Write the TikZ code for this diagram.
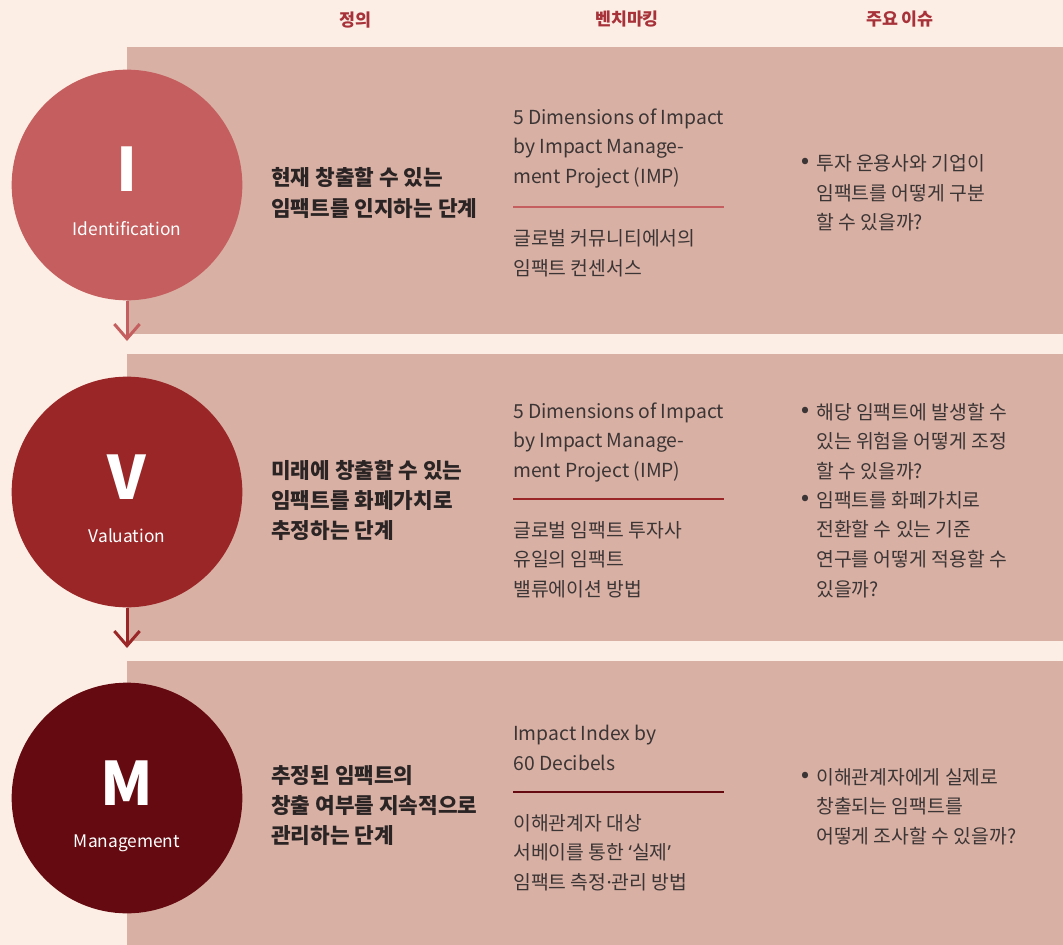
\documentclass[tikz,border=0pt]{standalone}
\usepackage{fontspec}
\setmainfont{Noto Sans CJK KR}
\newfontfamily\latinfont{Noto Sans}
\usetikzlibrary{arrows.meta}
\definecolor{bg}{HTML}{FCEEE4}
\definecolor{band}{HTML}{D9B0A4}
\definecolor{cI}{HTML}{C55F5F}
\definecolor{cV}{HTML}{9A2628}
\definecolor{cM}{HTML}{650A10}
\definecolor{head}{HTML}{A8323A}
\definecolor{body}{HTML}{3B3535}
\definecolor{defc}{HTML}{2A2424}
\tikzset{
  x=0.75pt, y=-0.75pt,
  hdr/.style={font=\bfseries\fontsize{13}{15}\selectfont, text=head, inner sep=0pt},
  stage/.style={circle, minimum size=173pt, inner sep=0pt},
  letter/.style={font=\bfseries\fontsize{45}{50}\selectfont, text=white, inner sep=0pt},
  sub/.style={font=\fontsize{13}{15}\selectfont, text=white, inner sep=0pt},
  defn/.style={font=\bfseries\fontsize{16}{22.8}\selectfont, text=defc, align=left, anchor=west, inner sep=0pt},
  bench/.style={font=\fontsize{14.5}{22.2}\selectfont, text=body, align=left, anchor=west, inner sep=0pt},
  bul/.style={font=\bfseries\fontsize{15}{16}\selectfont, text=body, inner sep=0pt},
  flow/.style={line width=2.25pt, -{Straight Barb[length=11pt, width=19pt]}},
  divider/.style={line width=0.9pt},
}
\begin{document}
\begin{tikzpicture}
\useasboundingbox (0,0) rectangle (1063,945);
\fill[bg] (0,0) rectangle (1063,945);
% bands
\fill[band] (127,47) rectangle (1063,334);
\fill[band] (127,354) rectangle (1063,641);
\fill[band] (127,661) rectangle (1063,945);
% headers
\node[hdr] (h1) at (355,20) {정의};
\node[hdr] (h2) at (627,19) {벤치마킹};
\node[hdr] (h3) at (900,19) {주요 이슈};
% arrow end points
\coordinate (a1) at (127,341);
\coordinate (a2) at (127,648);
% circles
\node[stage, fill=cI] (ci) at (127,185) {};
\node[stage, fill=cV] (cv) at (127,492) {};
\node[stage, fill=cM] (cm) at (127,798) {};
\draw[flow, cI] (ci.south) -- (a1);
\draw[flow, cV] (cv.south) -- (a2);
\node[letter] (li) at (127,169) {I};
\node[sub] (si) at (127,229) {Identification};
\node[letter] (lv) at (127,477) {V};
\node[sub] (sv) at (127,536) {Valuation};
\node[letter] (lm) at (127,783) {M};
\node[sub] (sm) at (127,843) {Management};
% definitions
\node[defn] (d1) at (271,193) {현재 창출할 수 있는\\임팩트를 인지하는 단계};
\node[defn] (d2) at (271,500.5) {미래에 창출할 수 있는\\임팩트를 화폐가치로\\추정하는 단계};
\node[defn] (d3) at (271,805.5) {추정된 임팩트의\\창출 여부를 지속적으로\\관리하는 단계};
% benchmarks
\node[bench] (b1a) at (513,148.5) {5 Dimensions of Impact\\by Impact Manage-\\ment Project (IMP)};
\draw[divider, cI] (513,207) -- (724,207);
\node[bench] (b1b) at (513,253) {글로벌 커뮤니티에서의\\임팩트 컨센서스};
\node[bench] (b2a) at (513,442.5) {5 Dimensions of Impact\\by Impact Manage-\\ment Project (IMP)};
\draw[divider, cV] (513,499) -- (724,499);
\node[bench] (b2b) at (513,559.5) {글로벌 임팩트 투자사\\유일의 임팩트\\밸류에이션 방법};
\node[bench] (b3a) at (513,748) {Impact Index by\\60 Decibels};
\draw[divider, cM] (513,792) -- (724,792);
\node[bench] (b3b) at (513,852.5) {이해관계자 대상\\서베이를 통한 {\latinfont ‘}실제{\latinfont ’}\\임팩트 측정{\latinfont ·}관리 방법};
% issues
\node[bul] (u1) at (805,163) {•};
\node[bench] (i1) at (816,193) {투자 운용사와 기업이\\임팩트를 어떻게 구분\\할 수 있을까?};
\node[bul] (u2) at (805,412) {•};
\node[bench] (i2) at (816,441.5) {해당 임팩트에 발생할 수\\있는 위험을 어떻게 조정\\할 수 있을까?};
\node[bul] (u3) at (805,500) {•};
\node[bench] (i3) at (816,544.5) {임팩트를 화폐가치로\\전환할 수 있는 기준\\연구를 어떻게 적용할 수\\있을까?};
\node[bul] (u4) at (805,777) {•};
\node[bench] (i4) at (816,806.5) {이해관계자에게 실제로\\창출되는 임팩트를\\어떻게 조사할 수 있을까?};
\end{tikzpicture}
\end{document}
